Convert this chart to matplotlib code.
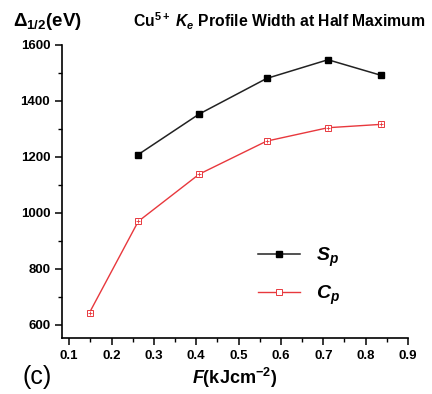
import matplotlib
matplotlib.use("Agg")
import matplotlib.pyplot as plt
from matplotlib.ticker import MultipleLocator

plt.rcParams['font.family'] = ['Liberation Sans', 'DejaVu Sans']
plt.rcParams['mathtext.fontset'] = 'custom'
plt.rcParams['mathtext.rm'] = 'Liberation Sans:bold'
plt.rcParams['mathtext.it'] = 'Liberation Sans:bold:italic'
plt.rcParams['mathtext.bf'] = 'Liberation Sans:bold'

# fluence (kJ/cm^2) and profile width (eV)
sp_x = [0.263, 0.407, 0.566, 0.711, 0.837]
sp_y = [1208, 1353, 1480, 1547, 1491]
cp_x = [0.148, 0.263, 0.407, 0.566, 0.711, 0.837]
cp_y = [643, 969, 1138, 1256, 1304, 1316]

red = "#e8383d"

fig = plt.figure(figsize=(4.32, 3.94), dpi=100)
ax = fig.add_axes([0.1435, 0.142, 0.801, 0.744])

h_sp, = ax.plot(sp_x, sp_y, color="#222222", lw=1.1, marker="s", ms=4.5,
                mfc="black", mec="black")
ax.plot(cp_x, cp_y, color=red, lw=1.0, marker="s", ms=5,
        mfc="white", mec=red, mew=0.7)
ax.plot(cp_x, cp_y, ls="none", marker="+", ms=3.5, mec=red, mew=0.6)
h_cp, = ax.plot([], [], color=red, lw=1.0, marker="s", ms=5,
                mfc="white", mec=red, mew=0.7)

ax.set_xlim(0.083, 0.9)
ax.set_ylim(552, 1600)
ax.xaxis.set_minor_locator(MultipleLocator(0.05))
ax.yaxis.set_major_locator(MultipleLocator(200))
ax.yaxis.set_minor_locator(MultipleLocator(100))
ax.set_xticks([0.1, 0.2, 0.3, 0.4, 0.5, 0.6, 0.7, 0.8, 0.9])
ax.set_xticklabels(["0.1", "0.2", "0.3", "0.4", "0.5", "0.6", "0.7", "0.8", "0.9"])

for s in ["top", "right"]:
    ax.spines[s].set_visible(False)
for s in ["left", "bottom"]:
    ax.spines[s].set_linewidth(1.2)
ax.tick_params(which="major", direction="out", length=5, width=1.1,
               labelsize=9.5)
ax.tick_params(which="minor", direction="out", length=3, width=1.0)
for lab in ax.get_xticklabels() + ax.get_yticklabels():
    lab.set_fontweight("bold")

ax.set_xlabel(r"$F$(kJcm$^{-2}$)", fontsize=13, fontweight="bold", labelpad=3)

fig.text(0.03, 0.935, r"$\mathregular{\Delta}_{1/2}$(eV)", fontsize=13.5,
         fontweight="bold")
fig.text(0.308, 0.93, r"Cu$^{5+}$ $K_e$ Profile Width at Half Maximum",
         fontsize=11.3, fontweight="bold")
fig.text(0.052, 0.025, "(c)", fontsize=18)

ax.legend([h_sp, h_cp], [r"$S_p$", r"$C_p$"], loc="upper left",
          bbox_to_anchor=(0.515, 0.375), frameon=False, fontsize=14,
          handlelength=2.2, labelspacing=0.75)

fig.savefig("out.png", dpi=100)
